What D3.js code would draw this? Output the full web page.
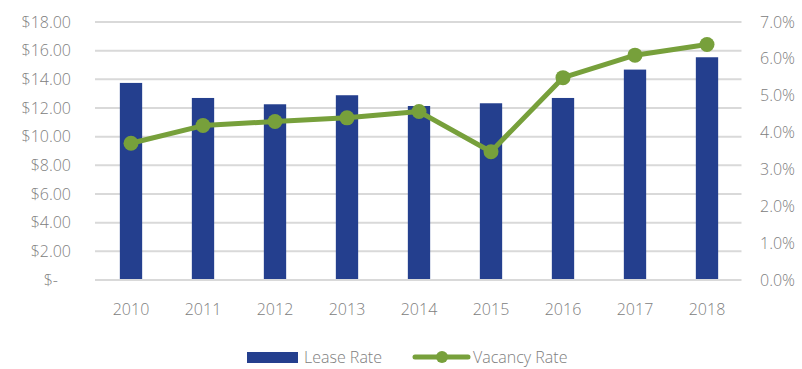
<!DOCTYPE html>
<html>
<head>
<meta charset="utf-8">
<script src="https://cdn.jsdelivr.net/npm/d3@7"></script>
<style>
  html, body { margin: 0; padding: 0; background: #fff; }
  svg { display: block; font-family: "Open Sans", "Noto Sans", sans-serif; }
  .tick text { fill: #808080; font-size: 16px; font-family: "Open Sans", "Noto Sans", sans-serif; font-weight: 300; }
</style>
</head>
<body>
<svg id="chart" width="802" height="369"></svg>
<script>
// Annual lease rate ($/sq ft) and vacancy rate
const years = ["2010", "2011", "2012", "2013", "2014", "2015", "2016", "2017", "2018"];
const leaseRate = [13.75, 12.70, 12.26, 12.89, 12.14, 12.33, 12.70, 14.68, 15.54];
const vacancyRate = [0.0371, 0.0419, 0.0430, 0.0440, 0.0457, 0.0348, 0.0549, 0.0610, 0.0639];
const leaseTicks = [0, 2, 4, 6, 8, 10, 12, 14, 16, 18];
const vacancyTicks = [0, 0.01, 0.02, 0.03, 0.04, 0.05, 0.06, 0.07];

const barColor = "#243f8e";
const lineColor = "#77a03b";
const gridColor = "#d9d9d9";
const textColor = "#808080";

const svg = d3.select("#chart");
const plot = { left: 95, right: 743, top: 22, bottom: 280 };

const x = d3.scaleBand().domain(years).range([plot.left, plot.right]).paddingInner(0.69).paddingOuter(0.345);
const yLeft = d3.scaleLinear().domain([0, 18]).range([plot.bottom, plot.top]);
const yRight = d3.scaleLinear().domain([0, 0.07]).range([plot.bottom, plot.top]);

// Horizontal gridlines
svg.append("g")
  .selectAll("line")
  .data(leaseTicks)
  .join("line")
  .attr("x1", plot.left).attr("x2", plot.right - 1.5)
  .attr("y1", d => yLeft(d)).attr("y2", d => yLeft(d))
  .attr("stroke", gridColor).attr("stroke-width", 2);

// Strip d3's default axis font so the stylesheet applies
const plainAxis = g => g.attr("font-family", null).attr("font-size", null).call(s => s.select(".domain").remove());

// Left axis (currency)
const leftAxis = svg.append("g")
  .attr("transform", `translate(${plot.left - 24},0)`)
  .call(d3.axisLeft(yLeft).tickValues(leaseTicks).tickSize(0).tickPadding(0)
    .tickFormat(d => d === 0 ? "$-" : "$" + d3.format(".2f")(d)))
  .call(plainAxis);
leftAxis.selectAll(".tick text").filter(d => d === 0).attr("dx", -13);

// Right axis (percent)
svg.append("g")
  .attr("transform", `translate(${plot.right + 17},0)`)
  .call(d3.axisRight(yRight).tickValues(vacancyTicks).tickSize(0).tickPadding(0)
    .tickFormat(d3.format(".1%")))
  .call(plainAxis);

// Category axis
svg.append("g")
  .attr("transform", `translate(0,${plot.bottom + 20})`)
  .call(d3.axisBottom(x).tickSize(0).tickPadding(4))
  .call(plainAxis);

// Lease rate bars
svg.append("g")
  .selectAll("rect")
  .data(leaseRate)
  .join("rect")
  .attr("x", (d, i) => x(years[i]))
  .attr("y", d => yLeft(d))
  .attr("width", x.bandwidth())
  .attr("height", d => yLeft(0) - yLeft(d) - 1)
  .attr("fill", barColor);

// Vacancy rate line with markers
const cx = i => x(years[i]) + x.bandwidth() / 2;
svg.append("path")
  .datum(vacancyRate)
  .attr("d", d3.line().x((d, i) => cx(i)).y(d => yRight(d)))
  .attr("fill", "none")
  .attr("stroke", lineColor)
  .attr("stroke-width", 5)
  .attr("stroke-linejoin", "round");

svg.append("g")
  .selectAll("circle")
  .data(vacancyRate)
  .join("circle")
  .attr("cx", (d, i) => cx(i))
  .attr("cy", d => yRight(d))
  .attr("r", 7.5)
  .attr("fill", lineColor);

// Legend
const legend = svg.append("g").attr("font-size", 16).attr("font-weight", 300).attr("fill", textColor);
legend.append("rect").attr("x", 247).attr("y", 352).attr("width", 51).attr("height", 11).attr("fill", barColor);
legend.append("text").attr("x", 304).attr("y", 363).text("Lease Rate");
legend.append("line").attr("x1", 415).attr("x2", 468).attr("y1", 357).attr("y2", 357)
  .attr("stroke", lineColor).attr("stroke-width", 5).attr("stroke-linecap", "round");
legend.append("circle").attr("cx", 442).attr("cy", 357).attr("r", 6).attr("fill", lineColor);
legend.append("text").attr("x", 473).attr("y", 363).text("Vacancy Rate");
</script>
</body>
</html>
